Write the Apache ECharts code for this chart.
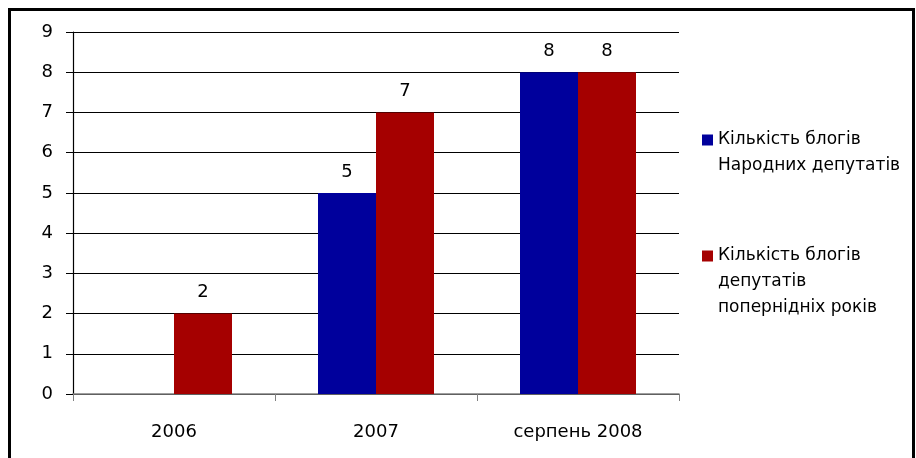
<!DOCTYPE html>
<html>
<head>
<meta charset="utf-8">
<script src="https://cdn.jsdelivr.net/npm/echarts@6/dist/echarts.min.js"></script>
<style>
html,body{margin:0;padding:0;background:#fff;}
#chart{width:916px;height:458px;}
</style>
</head>
<body>
<div id="chart"></div>
<script>
var categories = ['2006', '2007', 'серпень 2008'];
var seriesNames = ['Кількість блогів\nНародних депутатів', 'Кількість блогів\nдепутатів\nпопернідніх років'];
var deputiesBlogs = [null, 5, 8];
var previousBlogs = [2, 7, 8];
var yTicks = [0, 9, 1];

var FONT = 'DejaVu Sans';
var LH = 26;
// prepend empty lines so that the legend icon lines up with the first text line
function alignFirstLine(name) {
  var n = name.split('\n').length;
  return new Array(n).join('\n') + name;
}
function legendFor(name, iconCenterY) {
  var lines = name.split('\n').length * 2 - 1;
  return {
    orient: 'vertical',
    left: 697, top: iconCenterY - lines * LH / 2,
    itemWidth: 11, itemHeight: 11, itemGap: 0,
    icon: 'rect',
    data: [{name: name}],
    formatter: alignFirstLine,
    textStyle: {fontSize: 17, color: '#000', fontFamily: FONT, lineHeight: LH}
  };
}
var chart = echarts.init(document.getElementById('chart'), null, {renderer: 'canvas'});
chart.setOption({
  animation: false,
  backgroundColor: '#fff',
  textStyle: {fontFamily: FONT},
  graphic: [{
    type: 'polyline',
    shape: {points: [[9.5, 460], [9.5, 9.5], [913.5, 9.5], [913.5, 460]]},
    style: {stroke: '#000', lineWidth: 3, fill: null}
  }],
  grid: {left: 73, right: 237, top: 32, bottom: 64, containLabel: false},
  legend: [legendFor(seriesNames[0], 135), legendFor(seriesNames[1], 251)],
  xAxis: {
    type: 'category',
    data: categories,
    axisLine: {lineStyle: {color: '#808080', width: 1.5}},
    axisTick: {show: true, length: 7, lineStyle: {color: '#808080'}},
    axisLabel: {fontSize: 18, color: '#000', margin: 29, fontFamily: FONT},
    splitLine: {show: false}
  },
  yAxis: {
    type: 'value',
    min: yTicks[0], max: yTicks[1], interval: yTicks[2],
    axisLine: {show: true, lineStyle: {color: '#000', width: 1.2}},
    axisTick: {show: true, length: 7, lineStyle: {color: '#000'}},
    axisLabel: {fontSize: 18, color: '#000', margin: 20, fontFamily: FONT},
    splitLine: {show: true, lineStyle: {color: '#000', width: 1.2}}
  },
  series: [{
    name: seriesNames[0],
    type: 'bar',
    data: deputiesBlogs,
    barWidth: 58,
    barGap: '0%',
    itemStyle: {color: '#00009C'},
    label: {show: true, position: 'top', distance: 12, fontSize: 18, color: '#000', fontFamily: FONT}
  }, {
    name: seriesNames[1],
    type: 'bar',
    data: previousBlogs,
    barWidth: 58,
    barGap: '0%',
    itemStyle: {color: '#A50000'},
    label: {show: true, position: 'top', distance: 12, fontSize: 18, color: '#000', fontFamily: FONT}
  }]
});
</script>
</body>
</html>
